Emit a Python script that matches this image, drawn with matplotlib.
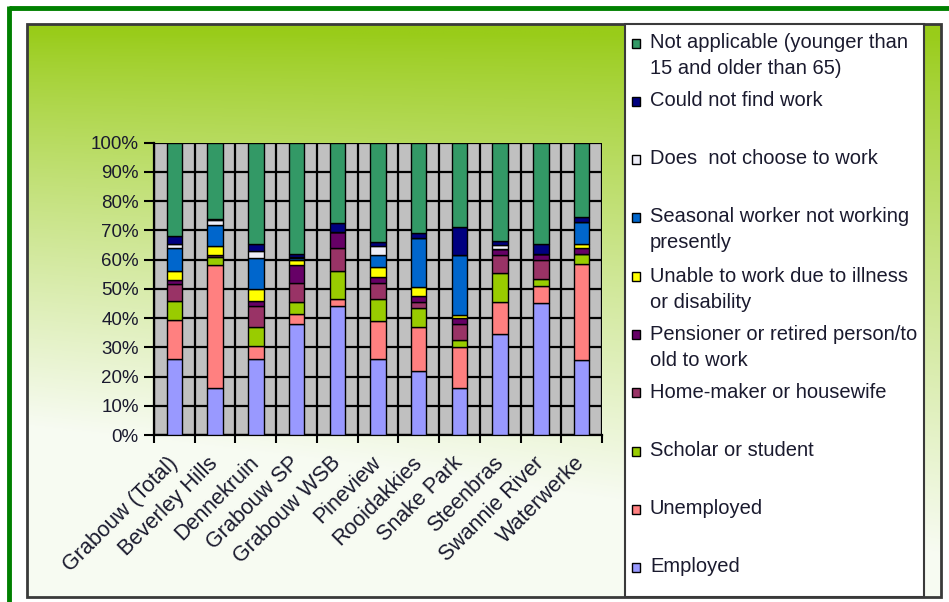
import numpy as np
import matplotlib
matplotlib.use("Agg")
import matplotlib.pyplot as plt
from matplotlib.patches import Rectangle

W, H = 949, 602

areas = ["Grabouw (Total)", "Beverley Hills", "Dennekruin", "Grabouw SP",
         "Grabouw WSB", "Pineview", "Rooidakkies", "Snake Park",
         "Steenbras", "Swannie River", "Waterwerke"]

# percentages per area, stacked bottom to top
employed     = [26.0, 16.0, 26.0, 38.0, 44.0, 26.0, 22.0, 16.0, 34.5, 45.0, 25.5]
unemployed   = [13.5, 42.0,  4.5,  3.5,  2.5, 13.0, 15.0, 14.0, 11.0,  6.0, 33.0]
scholar      = [ 6.5,  3.0,  6.5,  4.0,  9.5,  7.5,  6.5,  2.5, 10.0,  2.5,  3.5]
homemaker    = [ 5.5,  0.5,  7.0,  6.5,  8.0,  5.5,  2.0,  5.5,  6.0,  6.5,  0.0]
pensioner    = [ 1.5,  0.0,  2.0,  6.0,  5.5,  2.0,  2.0,  2.0,  2.0,  2.0,  2.0]
unable       = [ 3.0,  3.0,  4.0,  2.0,  0.0,  3.5,  3.0,  1.0,  0.0,  0.0,  1.5]
seasonal     = [ 8.0,  7.5, 10.5,  0.5,  0.0,  4.0, 17.0, 20.5,  0.0,  0.0,  7.5]
not_choose   = [ 1.5,  1.5,  2.5,  0.5,  0.0,  3.0,  0.0,  0.0,  1.5,  0.0,  0.0]
no_work      = [ 2.5,  0.5,  2.5,  1.0,  3.0,  1.5,  1.5,  9.5,  1.5,  3.5,  1.5]
not_applic   = [32.0, 26.0, 34.5, 38.0, 27.5, 34.0, 31.0, 29.0, 33.5, 34.5, 25.5]

series = [
    (employed,   "#9999FF", ["Employed"]),
    (unemployed, "#FF8080", ["Unemployed"]),
    (scholar,    "#99CC00", ["Scholar or student"]),
    (homemaker,  "#993366", ["Home-maker or housewife"]),
    (pensioner,  "#660066", ["Pensioner or retired person/to", "old to work"]),
    (unable,     "#FFFF00", ["Unable to work due to illness", "or disability"]),
    (seasonal,   "#0066CC", ["Seasonal worker not working", "presently"]),
    (not_choose, "#EEEEF8", ["Does  not choose to work"]),
    (no_work,    "#000080", ["Could not find work"]),
    (not_applic, "#339966", ["Not applicable (younger than", "15 and older than 65)"]),
]

plt.rcParams['font.family'] = ['Liberation Sans', 'DejaVu Sans']
TXT = "#1a1a2e"

fig = plt.figure(figsize=(W / 100, H / 100), dpi=100)
fig.patch.set_facecolor("white")

# background layer in pixel coordinates
bg = fig.add_axes([0, 0, 1, 1])
bg.set_xlim(0, W)
bg.set_ylim(H, 0)
bg.axis("off")

# lime -> white shading of the chart area
ny, nx = 200, 300
v = np.linspace(0, 1, ny)[:, None]
u = np.linspace(0, 1, nx)[None, :]
s = np.clip(v * 1.1 + 0.35 * (1 - u) * v - 0.02, 0, 1) ** 0.85
lime = np.array([0.60, 0.80, 0.10])
white = np.array([0.97, 0.985, 0.95])
img = lime[None, None, :] * (1 - s[..., None]) + white[None, None, :] * s[..., None]
bg.imshow(img, extent=(27, 941, 597, 24), aspect="auto", interpolation="bilinear", zorder=1)
bg.add_patch(Rectangle((27, 24), 914, 573, fill=False, ec="#3a3a3a", lw=2, zorder=3))

# outer green frame (top and left)
bg.plot([9, W], [7.5, 7.5], color="#008000", lw=3.5, solid_capstyle="butt", zorder=4)
bg.plot([9, 9], [6, H], color="#008000", lw=3.5, solid_capstyle="butt", zorder=4)

# legend panel
bg.add_patch(Rectangle((625, 24), 299, 573, fc="white", ec="#3a3a3a", lw=1.5, zorder=3))
leg_y = [567, 509, 451, 392, 334, 276, 217, 159, 101, 43]
for (vals, col, lines), y in zip(series, leg_y):
    bg.add_patch(Rectangle((632, y - 4.5), 8, 9, fc=col, ec="black", lw=1, zorder=5))
    for k, line in enumerate(lines):
        bg.text(650, y + 26 * k, line, fontsize=14.5, color=TXT,
                va="center", ha="left", zorder=5)

# stacked bar plot
left, right, top, bottom = 154, 602, 142.7, 435
ax = fig.add_axes([left / W, 1 - bottom / H, (right - left) / W, (bottom - top) / H])
ax.set_facecolor("#C0C0C0")
x = np.arange(len(areas))
base = np.zeros(len(areas))
for vals, col, lines in series:
    vals = np.array(vals) / 100
    ax.bar(x, vals, width=0.38, bottom=base, color=col, edgecolor="black",
           linewidth=1.0, zorder=3)
    base += vals

ax.set_xlim(-0.5, len(areas) - 0.5)
ax.set_ylim(0, 1)
ax.set_yticks(np.arange(0, 1.01, 0.1))
ax.set_yticklabels([f"{int(round(t * 100))}%" for t in np.arange(0, 1.01, 0.1)],
                   fontsize=13.5, color=TXT)
ax.set_xticks(x)
ax.set_xticklabels(areas, rotation=45, ha="right", va="center",
                   rotation_mode="anchor", fontsize=15.5, color=TXT)
ax.set_xticks(np.arange(-0.5, len(areas), 1.0), minor=True)
ax.tick_params(axis="x", which="major", length=0, pad=18)
ax.tick_params(axis="x", which="minor", length=6, width=1.5, direction="out")
ax.tick_params(axis="y", length=7, width=1.5, direction="out", pad=4)
ax.grid(True, axis="y", which="major", color="black", lw=1.6)
ax.grid(True, axis="x", which="minor", color="black", lw=1.6)
ax.set_axisbelow(True)
for side in ["top", "right"]:
    ax.spines[side].set_visible(False)
for side in ["left", "bottom"]:
    ax.spines[side].set_linewidth(1.6)
    ax.spines[side].set_color("black")

fig.savefig("out.png", dpi=100)
